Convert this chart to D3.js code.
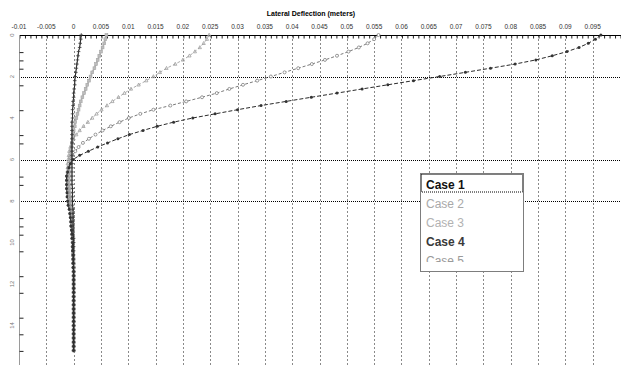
<!DOCTYPE html>
<html>
<head>
<meta charset="utf-8">
<script src="https://cdn.jsdelivr.net/npm/d3@7"></script>
<style>
  html, body { margin: 0; padding: 0; background: #fff; }
  svg { display: block; font-family: "Liberation Sans", Arial, sans-serif; }
</style>
</head>
<body>
<svg id="chart" width="621" height="365"></svg>
<script>
// Pile node depths (m)
const depths = [
  0.0, 0.2, 0.4, 0.6, 0.8,
  1.0, 1.2, 1.4, 1.6, 1.8,
  2.0, 2.2, 2.4, 2.6, 2.8,
  3.0, 3.2, 3.4, 3.6, 3.8,
  4.0, 4.2, 4.4, 4.6, 4.8,
  5.0, 5.2, 5.4, 5.6, 5.8,
  6.0, 6.2, 6.4, 6.6, 6.8,
  7.0, 7.2, 7.4, 7.6, 7.8,
  8.0, 8.2, 8.4, 8.6, 8.8,
  9.0, 9.2, 9.4, 9.6, 9.8,
  10.0, 10.2, 10.4, 10.6, 10.8,
  11.0, 11.2, 11.4, 11.6, 11.8,
  12.0, 12.2, 12.4, 12.6, 12.8,
  13.0, 13.2, 13.4, 13.6, 13.8,
  14.0, 14.2, 14.4, 14.6, 14.8,
  15.0, 15.2
];

// Lateral deflection (m) at each node, per load case
const case1 = [
  0.0014, 0.0013, 0.0012, 0.0011, 0.0009,
  0.0008, 0.0007, 0.0006, 0.0005, 0.0004,
  0.0003, 0.0002, 0.0002, 0.0001, 0.0000,
  0.0000, -0.0001, -0.0001, -0.0002, -0.0002,
  -0.0002, -0.0003, -0.0003, -0.0003, -0.0003,
  -0.0003, -0.0003, -0.0003, -0.0003, -0.0003,
  -0.0003, -0.0003, -0.0003, -0.0003, -0.0003,
  -0.0003, -0.0003, -0.0002, -0.0002, -0.0002,
  -0.0002, -0.0002, -0.0001, -0.0001, -0.0001,
  -0.0001, -0.0001, -0.0001, -0.0001, 0,
  0, 0, 0, 0, 0,
  0, 0, 0, 0, 0,
  0, 0, 0, 0, 0,
  0, 0, 0, 0, 0,
  0, 0, 0, 0, 0,
  0, 0
];
const case2 = [
  0.0060, 0.0058, 0.0056, 0.0053, 0.0050,
  0.0047, 0.0044, 0.0041, 0.0038, 0.0034,
  0.0031, 0.0028, 0.0025, 0.0022, 0.0019,
  0.0016, 0.0013, 0.0011, 0.0009, 0.0007,
  0.0005, 0.0003, 0.0002, 0.0000, -0.0001,
  -0.0002, -0.0003, -0.0004, -0.0005, -0.0006,
  -0.0007, -0.0007, -0.0008, -0.0008, -0.0008,
  -0.0008, -0.0008, -0.0007, -0.0007, -0.0006,
  -0.0006, -0.0005, -0.0004, -0.0004, -0.0003,
  -0.0003, -0.0002, -0.0002, -0.0002, -0.0001,
  -0.0001, -0.0001, -0.0001, -0.0001, 0,
  0, 0, 0, 0, 0,
  0, 0, 0, 0, 0,
  0, 0, 0, 0, 0,
  0, 0, 0, 0, 0,
  0, 0
];
const case3 = [
  0.0248, 0.0244, 0.0238, 0.0231, 0.0222,
  0.0212, 0.0200, 0.0186, 0.0170, 0.0158,
  0.0146, 0.0133, 0.0119, 0.0105, 0.0093,
  0.0082, 0.0071, 0.0061, 0.0051, 0.0042,
  0.0034, 0.0026, 0.0018, 0.0011, 0.0005,
  0.0000, -0.0003, -0.0006, -0.0008, -0.0009,
  -0.0010, -0.0011, -0.0011, -0.0011, -0.0011,
  -0.0011, -0.0010, -0.0010, -0.0009, -0.0008,
  -0.0008, -0.0007, -0.0006, -0.0005, -0.0004,
  -0.0004, -0.0003, -0.0003, -0.0002, -0.0002,
  -0.0001, -0.0001, -0.0001, -0.0001, -0.0001,
  0, 0, 0, 0, 0,
  0, 0, 0, 0, 0,
  0, 0, 0, 0, 0,
  0, 0, 0, 0, 0,
  0, 0
];
const case4 = [
  0.0558, 0.0550, 0.0538, 0.0522, 0.0503,
  0.0482, 0.0460, 0.0436, 0.0411, 0.0386,
  0.0361, 0.0336, 0.0310, 0.0285, 0.0262,
  0.0235, 0.0206, 0.0177, 0.0146, 0.0122,
  0.0101, 0.0084, 0.0068, 0.0053, 0.0040,
  0.0028, 0.0017, 0.0009, 0.0003, -0.0002,
  -0.0005, -0.0008, -0.0010, -0.0011, -0.0012,
  -0.0012, -0.0012, -0.0012, -0.0011, -0.0010,
  -0.0010, -0.0009, -0.0007, -0.0006, -0.0005,
  -0.0005, -0.0004, -0.0003, -0.0003, -0.0002,
  -0.0002, -0.0002, -0.0001, -0.0001, -0.0001,
  -0.0001, 0, 0, 0, 0,
  0, 0, 0, 0, 0,
  0, 0, 0, 0, 0,
  0, 0, 0, 0, 0,
  0, 0
];
const case5 = [
  0.0965, 0.0955, 0.0942, 0.0925, 0.0903,
  0.0876, 0.0846, 0.0808, 0.0763, 0.0717,
  0.0670, 0.0622, 0.0575, 0.0528, 0.0482,
  0.0435, 0.0389, 0.0343, 0.0300, 0.0259,
  0.0218, 0.0183, 0.0153, 0.0127, 0.0102,
  0.0081, 0.0062, 0.0044, 0.0027, 0.0011,
  -0.0001, -0.0006, -0.0009, -0.0011, -0.0013,
  -0.0013, -0.0013, -0.0013, -0.0012, -0.0012,
  -0.0011, -0.0010, -0.0008, -0.0007, -0.0006,
  -0.0005, -0.0005, -0.0004, -0.0003, -0.0003,
  -0.0002, -0.0002, -0.0002, -0.0001, -0.0001,
  -0.0001, -0.0001, 0, 0, 0,
  0, 0, 0, 0, 0,
  0, 0, 0, 0, 0,
  0, 0, 0, 0, 0,
  0, 0
];

const caseNames = ["Case 1", "Case 2", "Case 3", "Case 4", "Case 5"];

// Axis ticks
const xTickValues = [-0.01, -0.005, 0, 0.005, 0.01, 0.015, 0.02, 0.025, 0.03, 0.035, 0.04,
  0.045, 0.05, 0.055, 0.06, 0.065, 0.07, 0.075, 0.08, 0.085, 0.09, 0.095];
const xTickLabels = ["-0.01", "-0.005", "0", "0.005", "0.01", "0.015", "0.02", "0.025", "0.03",
  "0.035", "0.04", "0.045", "0.05", "0.055", "0.06", "0.065", "0.07", "0.075", "0.08",
  "0.085", "0.09", "0.095"];
const yTickValues = [0, 2, 4, 6, 8, 10, 12, 14];
const yTickLabels = ["0", "2", "4", "6", "8", "10", "12", "14"];
const yMinorTicks = [0.8, 1.2, 1.6, 2.4, 3.6, 4.8, 5.2, 6.8, 7.2, 8.8, 9.2, 9.6, 10.4, 11.6, 12.4, 13.6, 14.4, 15.2];
// Soil layer boundaries (m)
const layerDepths = [2, 6, 8];

(function draw() {
  const svg = d3.select("#chart");
  const W = 621, H = 365;
  const plotLeft = 19, plotTop = 35, plotRight = 620;

  const x = d3.scaleLinear().domain([-0.01, 0.1]).range([plotLeft, plotRight]);
  const y = d3.scaleLinear().domain([0, 16]).range([plotTop, plotTop + 16 * 20.75]);
  const px = v => Math.round(x(v)) + 0.5;
  const py = v => Math.round(y(v)) + 0.5;

  // Title
  svg.append("text")
    .attr("x", 311).attr("y", 16)
    .attr("text-anchor", "middle")
    .attr("font-size", 7).attr("font-weight", "bold").attr("fill", "#000")
    .text("Lateral Deflection (meters)");

  // Vertical grid lines
  svg.append("g").selectAll("line")
    .data(xTickValues.slice(1))
    .join("line")
    .attr("x1", d => px(d)).attr("x2", d => px(d))
    .attr("y1", plotTop).attr("y2", H)
    .attr("stroke", "#8a8a8a").attr("stroke-width", 1)
    .attr("stroke-dasharray", "2,2");

  // Layer boundary lines
  svg.append("g").selectAll("line")
    .data(layerDepths)
    .join("line")
    .attr("x1", plotLeft).attr("x2", W)
    .attr("y1", d => py(d)).attr("y2", d => py(d))
    .attr("stroke", "#000").attr("stroke-width", 1)
    .attr("stroke-dasharray", "1,1");

  // Top axis with minor ticks
  const xAxis = d3.axisTop(x)
    .tickValues(x.ticks(110))
    .tickSize(-3)
    .tickFormat("");
  const gx = svg.append("g").attr("transform", `translate(0.5,${plotTop + 0.5})`).call(xAxis);
  gx.select(".domain").remove();
  gx.selectAll(".tick line").attr("stroke", "#222");
  svg.append("line")
    .attr("x1", plotLeft).attr("x2", W)
    .attr("y1", plotTop + 0.5).attr("y2", plotTop + 0.5)
    .attr("stroke", "#000");
  svg.append("g").selectAll("text")
    .data(xTickValues)
    .join("text")
    .attr("x", d => x(d)).attr("y", 29)
    .attr("text-anchor", "middle")
    .attr("font-size", 6.5).attr("fill", "#333")
    .text((d, i) => xTickLabels[i]);

  // Left axis
  svg.append("line")
    .attr("x1", plotLeft + 0.5).attr("x2", plotLeft + 0.5)
    .attr("y1", plotTop).attr("y2", H)
    .attr("stroke", "#9a9a9a");
  const yAxis = d3.axisRight(y).tickValues(yMinorTicks).tickSize(4).tickFormat("");
  const gy = svg.append("g").attr("transform", `translate(${plotLeft + 0.5},0.5)`).call(yAxis);
  gy.select(".domain").remove();
  gy.selectAll(".tick line").attr("stroke", "#222");
  svg.append("g").selectAll("text")
    .data(yTickValues)
    .join("text")
    .attr("transform", d => `translate(14,${y(d)}) rotate(-90)`)
    .attr("text-anchor", "middle")
    .attr("font-size", 6).attr("fill", "#777")
    .text((d, i) => yTickLabels[i]);

  // Deflection curves
  const series = [
    { values: case2, stroke: "#b4b4b4", width: 1.6, dash: null, marker: "square" },
    { values: case3, stroke: "#ababab", width: 1, dash: "3,2", marker: "tri" },
    { values: case4, stroke: "#7a7a7a", width: 1, dash: "3,2", marker: "ring" },
    { values: case5, stroke: "#2a2a2a", width: 1, dash: "4,2", marker: "dot" },
    { values: case1, stroke: "#222", width: 1, dash: null, marker: "plus" }
  ];

  const line = d3.line()
    .x(d => x(d.v))
    .y(d => y(d.z));

  const plot = svg.append("g");
  series.forEach(s => {
    const pts = depths.map((z, i) => ({ z, v: s.values[i] }));
    plot.append("path")
      .datum(pts)
      .attr("d", line)
      .attr("fill", "none")
      .attr("stroke", s.stroke)
      .attr("stroke-width", s.width)
      .attr("stroke-dasharray", s.dash);

    const m = plot.append("g").selectAll("g").data(pts).join("g")
      .attr("transform", d => `translate(${x(d.v)},${y(d.z)})`);
    if (s.marker === "dot") {
      m.append("circle").attr("r", 1.5).attr("fill", "#333");
    } else if (s.marker === "ring") {
      m.append("circle").attr("r", 1.5).attr("fill", "#fff").attr("stroke", "#808080").attr("stroke-width", 0.8);
    } else if (s.marker === "tri") {
      m.append("path").attr("d", "M0,-1.8L1.6,1.2L-1.6,1.2Z")
        .attr("fill", "none").attr("stroke", "#a0a0a0").attr("stroke-width", 0.8);
    } else if (s.marker === "square") {
      m.append("rect").attr("x", -1.4).attr("y", -1.4).attr("width", 2.8).attr("height", 2.8)
        .attr("fill", "#bdbdbd").attr("stroke", "#a5a5a5").attr("stroke-width", 0.6);
    } else {
      m.append("path").attr("d", "M-1.8,0H1.8M0,-1.8V1.8")
        .attr("stroke", "#333").attr("stroke-width", 0.8);
    }
  });

  // Legend list box
  const lg = svg.append("g");
  lg.append("rect")
    .attr("x", 420.5).attr("y", 173.5).attr("width", 103).attr("height", 98)
    .attr("fill", "#fff").attr("stroke", "#7d7d7d").attr("stroke-width", 1);
  svg.append("clipPath").attr("id", "listClip")
    .append("rect").attr("x", 421).attr("y", 174).attr("width", 102).attr("height", 88);
  const legendColors = ["#111", "#a9a9a9", "#b2b2b2", "#3a3a3a", "#9a9a9a"];
  const legendWeights = ["bold", "normal", "normal", "bold", "normal"];
  lg.append("g").attr("clip-path", "url(#listClip)")
    .selectAll("text")
    .data(caseNames)
    .join("text")
    .attr("x", 426)
    .attr("y", (d, i) => 188.5 + i * 19)
    .attr("font-size", 12)
    .attr("font-weight", (d, i) => legendWeights[i])
    .attr("fill", (d, i) => legendColors[i])
    .text(d => d);
  // Focus outline round the selected entry
  lg.append("rect")
    .attr("x", 421.5).attr("y", 174.5).attr("width", 101).attr("height", 17.5)
    .attr("fill", "none").attr("stroke", "#000").attr("stroke-width", 1)
    .attr("stroke-dasharray", "1,1");
})();
</script>
</body>
</html>
